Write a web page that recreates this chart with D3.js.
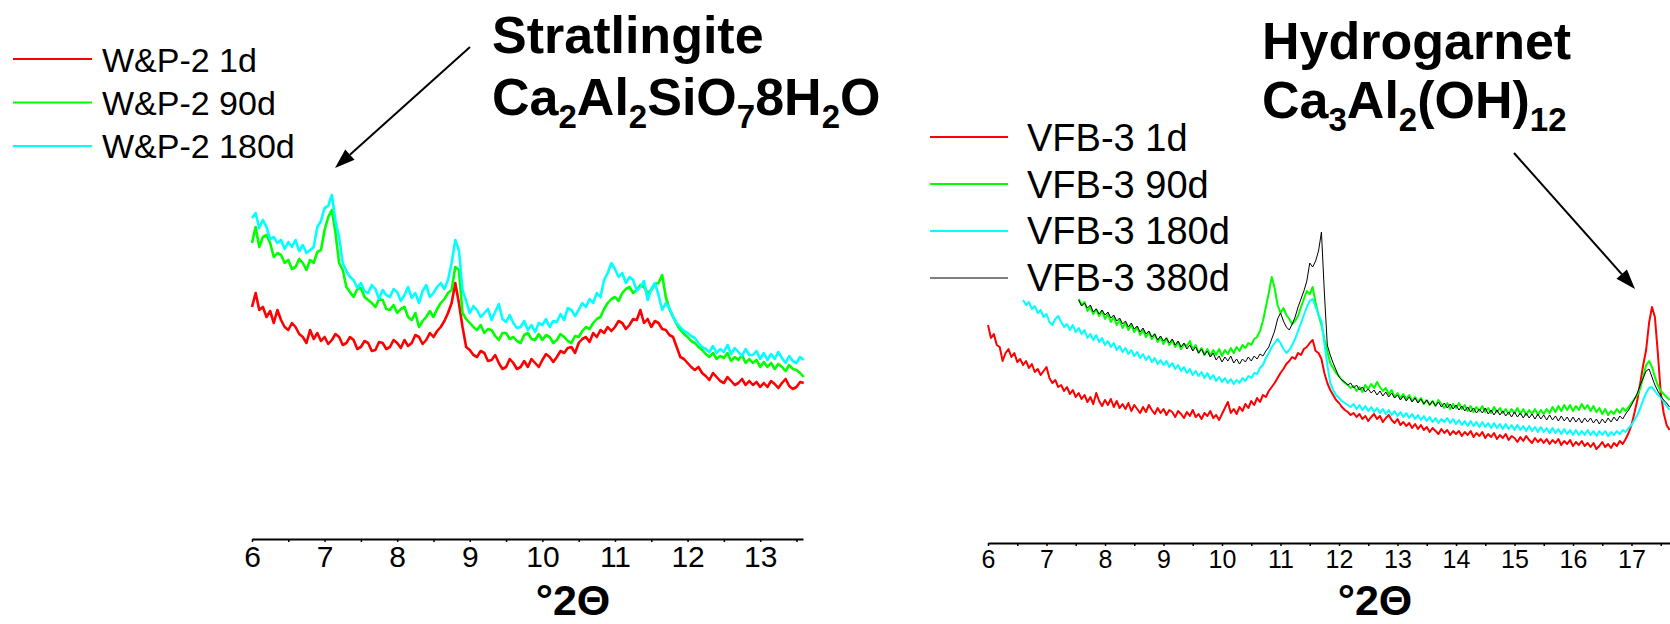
<!DOCTYPE html>
<html lang="en">
<head>
<meta charset="UTF-8" />
<title>XRD W&amp;P-2 / VFB-3</title>
<style>
  body { margin: 0; background: #fff; }
  svg { display: block; font-family: "Liberation Sans", Arial, sans-serif; }
  .curve { fill: none; stroke-linejoin: round; }
</style>
</head>
<body>
<svg width="1670" height="624"></svg>
<script src="https://cdn.jsdelivr.net/npm/d3@7"></script>
<script>
// ---- W&P-2 (left panel): 2θ from 6.00° in 0.05° steps, intensity in arbitrary counts
const wpStart = 6, wpStep = 0.05;
const wp1d = [
  232,246,229,232,222,228,216,229,219,212, 209,216,212,205,202,196,209,200,206,198,
  202,195,199,205,202,194,196,202,199,190, 192,198,196,188,189,197,196,190,192,199,
  196,191,199,193,196,204,202,195,199,206, 202,208,212,218,226,236,256,236,212,192,
  189,184,182,188,186,178,179,184,176,170, 172,180,176,170,172,178,172,180,176,172,
  179,185,182,177,182,188,186,191,192,186, 196,200,202,197,206,202,209,206,212,208,
  212,218,216,210,214,220,219,229,216,220, 212,218,216,210,209,204,202,192,182,180,
  176,172,169,172,166,163,159,166,162,158, 156,162,158,154,156,160,154,158,154,157,
  152,156,152,158,155,151,156,160,153,150, 152,157,156
];
const wp90d = [
  296,312,292,302,304,296,282,286,284,276, 279,270,272,280,276,269,279,276,287,289,
  309,322,329,306,276,269,252,247,242,250, 251,242,239,236,232,240,239,230,229,234,
  226,230,232,222,219,226,212,218,222,228, 222,230,236,240,246,249,272,269,226,220,
  216,212,209,214,206,210,209,203,199,206, 206,200,202,198,196,204,206,200,199,205,
  199,204,202,196,199,205,202,198,196,203, 202,208,212,210,216,220,222,230,236,240,
  242,238,246,250,252,246,249,254,252,246, 249,255,256,264,242,230,222,215,209,205,
  202,198,196,192,189,185,182,186,180,183, 181,186,178,182,179,184,176,180,176,179,
  172,177,172,176,170,175,172,168,174,170, 169,166,162
];
const wp180d = [
  321,326,311,319,312,300,302,296,299,290, 297,292,299,288,294,286,289,292,312,318,
  331,333,344,318,302,276,268,262,259,251, 256,248,246,254,250,240,249,244,242,250,
  247,238,244,252,241,246,236,248,254,242, 246,252,256,250,259,276,299,289,249,238,
  226,233,229,222,226,230,219,227,235,220, 217,224,216,211,212,218,209,214,207,216,
  214,220,212,218,217,225,219,231,229,223, 229,236,232,240,236,246,242,259,266,276,
  270,262,266,256,262,259,248,252,258,239, 250,256,244,229,236,231,222,216,212,208,
  206,203,201,196,192,190,187,193,186,190, 187,194,185,191,187,183,190,184,184,188,
  180,186,179,185,180,187,181,176,183,178, 176,182,179
];
const wpLabels = ["W&P-2 1d", "W&P-2 90d", "W&P-2 180d"];
const wpTicks = d3.range(6, 13.51, 0.5);

// ---- VFB-3 (right panel): 0.05° steps, each trace starts where it shows below the legend
const vfbStep = 0.05;
const vfb1dStart = 6.00;
const vfb1d = [
  218,205,209,198,196,182,190,194,186,190, 181,184,178,182,175,179,171,174,168,172,
  176,165,160,163,156,158,152,156,149,153, 146,150,144,148,141,146,139,150,142,137,
  143,138,144,136,142,135,139,134,140,132, 138,134,130,136,131,138,133,129,135,130,
  134,128,133,131,126,132,129,125,131,127, 133,126,129,124,130,127,132,125,128,123,
  129,135,141,130,134,129,136,132,139,135, 142,138,145,141,148,146,152,156,160,165,
  170,174,179,182,186,184,190,188,194,196, 200,203,192,190,184,170,160,153,148,143,
  140,136,133,131,128,130,126,129,124,127, 122,126,129,124,127,121,125,128,123,120,
  124,118,121,117,120,115,119,114,118,113, 116,111,115,112,109,114,110,113,108,112,
  109,112,107,111,108,112,106,110,107,111, 105,109,106,110,104,108,105,109,103,107,
  105,101,106,102,107,103,100,105,101,104, 100,104,99,103,100,104,98,102,99,103,
  97,101,98,102,97,100,96,100,94,97, 101,96,99,95,100,97,102,99,104,110,
  118,130,143,160,178,193,220,236,226,190, 150,130,118,113
];
const vfb90dStart = 7.55;
const vfb90d = [
  244,238,241,232,236,229,234,227,232,
  224,229,221,226,218,223,215,220,213,218, 211,216,208,213,206,211,204,209,201,206,
  199,205,198,203,196,201,194,199,197,202, 194,198,190,195,188,194,187,193,188,194,
  187,193,189,195,190,196,192,198,195,200, 198,204,206,212,222,236,250,266,255,238,
  230,235,228,224,219,222,227,236,244,252, 249,256,240,228,218,204,192,180,175,170,
  167,163,160,158,155,157,152,156,151,158, 154,159,155,161,156,152,155,149,153,146,
  150,145,149,144,148,142,146,141,145,139, 143,138,142,137,143,139,135,140,134,139,
  135,140,134,138,132,137,131,136,132,137, 131,135,130,136,131,135,130,134,129,134,
  130,135,129,134,128,133,129,134,128,133, 129,134,130,136,131,137,132,138,133,138,
  132,137,133,139,134,138,132,137,131,135, 129,134,128,132,129,134,130,135,132,136,
  140,144,148,155,166,178,182,176,166,158, 152,149,146,143
];
const vfb180dStart = 6.60;
const vfb180d = [
  243,238,241,234,237,230,233,226,
  229,221,218,224,227,221,216,219,213,218, 211,215,209,213,205,209,203,208,201,205,
  198,202,196,200,193,197,191,195,189,193, 187,191,185,189,183,187,181,185,179,183,
  178,182,176,180,174,178,172,176,170,174, 168,172,167,171,165,170,164,168,162,166,
  161,165,160,164,159,163,160,165,162,167, 165,170,169,175,178,185,190,196,200,204,
  200,194,190,193,198,204,212,220,228,236, 242,244,236,228,222,200,178,160,153,148,
  145,142,140,138,136,139,134,138,133,137, 132,136,131,135,130,134,129,133,128,132,
  127,131,126,130,125,129,124,128,123,127, 122,126,121,125,120,124,121,125,120,124,
  119,123,118,122,117,122,117,121,116,121, 116,120,115,120,115,119,114,119,114,118,
  113,118,113,117,112,117,112,116,111,116, 111,115,110,115,110,114,109,114,109,113,
  108,113,108,112,108,113,108,112,107,112, 108,112,107,111,108,112,109,113,111,115,
  118,123,128,135,143,150,155,156,152,148, 146,141,137,133
];
const vfb380dStart = 7.55;
const vfb380d = [
  243,237,240,235,238,231,234,229,233,
  228,231,225,228,222,225,219,222,216,220, 214,217,211,215,209,212,206,209,203,207,
  202,205,200,204,198,202,196,200,194,198, 192,196,190,194,188,192,186,190,183,187,
  181,186,182,187,180,184,179,184,181,186, 182,187,184,189,187,192,196,204,212,224,
  230,222,216,213,219,226,236,244,252,262, 280,276,282,292,311,250,198,188,180,173,
  166,163,161,158,160,155,158,153,156,151, 154,150,153,148,152,147,151,146,150,145,
  148,143,147,142,146,141,145,140,144,139, 143,138,142,137,141,136,140,135,139,134,
  138,133,137,132,136,131,135,130,134,130, 135,129,133,128,133,128,132,127,131,126,
  131,126,130,125,130,125,129,124,129,124, 128,123,128,123,127,122,127,122,126,121,
  126,121,125,120,125,121,125,120,124,119, 124,120,125,121,126,122,127,124,129,133,
  138,144,150,158,165,172,174,166,158,152, 147,143,140,136
];
const vfbLabels = ["VFB-3 1d", "VFB-3 90d", "VFB-3 180d", "VFB-3 380d"];
const vfbTicks = d3.range(6, 18.01, 0.5);

const RED = "#ff0000", GREEN = "#00ff00", CYAN = "#00ffff", BLACK = "#000000";

const svg = d3.select("svg");

// scales
const xL = d3.scaleLinear().domain([6, 13.59]).range([252, 803]);
const yL = d3.scaleLinear().domain([0, 400]).range([539, 139]);
const xR = d3.scaleLinear().domain([6, 18]).range([988, 1690]);
const yR = d3.scaleLinear().domain([0, 400]).range([543, 143]);

function drawAxis(x, y, ticks, fontSize, pad, lastLabel) {
  const axis = d3.axisBottom(x)
    .tickValues(ticks)
    .tickSize(3)
    .tickSizeOuter(0)
    .tickPadding(pad)
    .tickFormat(d => (d % 1 === 0 && d <= lastLabel ? d : ""));
  const g = svg.append("g")
    .attr("transform", `translate(0,${y})`)
    .call(axis)
    .attr("font-family", null)
    .attr("font-size", fontSize);
  g.select(".domain").attr("stroke-width", 2);
  g.selectAll(".tick line").attr("stroke-width", 1.5);
  g.selectAll(".tick text").attr("fill", "#000");
}

function trace(x, y, start, values, color, width) {
  const line = d3.line()
    .x((d, i) => x(start + i * vfbStep))
    .y(d => y(d));
  svg.append("path")
    .datum(values)
    .attr("class", "curve")
    .attr("d", line)
    .attr("stroke", color)
    .attr("stroke-width", width);
}

function arrow(x1, y1, x2, y2) {
  const a = Math.atan2(y2 - y1, x2 - x1), len = 20, hw = 7;
  const bx = x2 - len * Math.cos(a), by = y2 - len * Math.sin(a);
  svg.append("line")
    .attr("x1", x1).attr("y1", y1).attr("x2", bx).attr("y2", by)
    .attr("stroke", "#000").attr("stroke-width", 2);
  svg.append("path")
    .attr("d", `M${x2},${y2}L${bx + hw * Math.sin(a)},${by - hw * Math.cos(a)}L${bx - hw * Math.sin(a)},${by + hw * Math.cos(a)}Z`)
    .attr("fill", "#000");
}

function formula(x, y, parts) {
  const t = svg.append("text")
    .attr("x", x).attr("y", y)
    .attr("font-size", 52).attr("font-weight", "bold");
  let low = false;
  parts.forEach(p => {
    const sub = /^\d+$/.test(p) && p !== "8";
    t.append("tspan")
      .attr("dy", sub && !low ? 13 : (!sub && low ? -13 : 0))
      .attr("font-size", sub ? 33 : null)
      .text(p);
    low = sub;
  });
}

// ---- left panel
drawAxis(xL, 539, wpTicks, 30, 4, 13);
[[wp1d, RED], [wp90d, GREEN], [wp180d, CYAN]].forEach(([v, c]) => {
  const line = d3.line().x((d, i) => xL(wpStart + i * wpStep)).y(d => yL(d));
  svg.append("path").datum(v).attr("class", "curve").attr("d", line)
    .attr("stroke", c).attr("stroke-width", 2.6);
});

const legL = svg.append("g");
wpLabels.forEach((lab, i) => {
  legL.append("line")
    .attr("x1", 13).attr("x2", 92)
    .attr("y1", 59 + i * 43.5).attr("y2", 59 + i * 43.5)
    .attr("stroke", [RED, GREEN, CYAN][i]).attr("stroke-width", 2);
  legL.append("text")
    .attr("x", 102).attr("y", 72 + i * 43)
    .attr("font-size", 34).text(lab);
});

svg.append("text").attr("x", 492).attr("y", 53)
  .attr("font-size", 52).attr("font-weight", "bold").text("Stratlingite");
formula(492, 115, ["Ca", "2", "Al", "2", "SiO", "7", "8H", "2", "O"]);
arrow(470, 47, 335, 168);

svg.append("text").attr("x", 573).attr("y", 615)
  .attr("text-anchor", "middle").attr("font-size", 43).attr("font-weight", "bold")
  .text("°2Θ");

// ---- right panel
drawAxis(xR, 543, vfbTicks, 25, 4, 17);
trace(xR, yR, vfb1dStart, vfb1d, RED, 2);
trace(xR, yR, vfb90dStart, vfb90d, GREEN, 2);
trace(xR, yR, vfb180dStart, vfb180d, CYAN, 2);
trace(xR, yR, vfb380dStart, vfb380d, BLACK, 1);

const legR = svg.append("g");
vfbLabels.forEach((lab, i) => {
  legR.append("line")
    .attr("x1", 930).attr("x2", 1008)
    .attr("y1", 137 + i * 47).attr("y2", 137 + i * 47)
    .attr("stroke", [RED, GREEN, CYAN, BLACK][i]).attr("stroke-width", i === 3 ? 1 : 2);
  legR.append("text")
    .attr("x", 1027).attr("y", 151 + i * 46.5)
    .attr("font-size", 38).text(lab);
});

svg.append("text").attr("x", 1262).attr("y", 59)
  .attr("font-size", 52).attr("font-weight", "bold").text("Hydrogarnet");
formula(1262, 118, ["Ca", "3", "Al", "2", "(OH)", "12"]);
arrow(1514, 153, 1635, 289);

svg.append("text").attr("x", 1375).attr("y", 615)
  .attr("text-anchor", "middle").attr("font-size", 43).attr("font-weight", "bold")
  .text("°2Θ");
</script>
</body>
</html>
